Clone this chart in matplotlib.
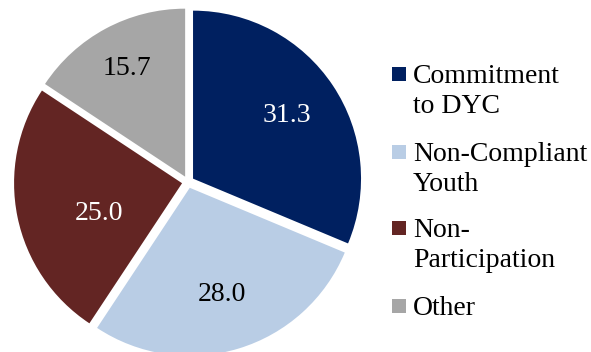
import numpy as np
import matplotlib.pyplot as plt
from matplotlib.patches import Rectangle

categories = ['Commitment\nto DYC', 'Non-Compliant\nYouth', 'Non-\nParticipation', 'Other']
values = [31.3, 28.0, 25.0, 15.7]
colors = ['#002060', '#B9CDE5', '#632523', '#A6A6A6']
text_colors = ['white', 'black', 'white', 'black']
# where each value sits: distance from the centre and turn off the bisector (deg)
label_r = [0.71, 0.70, 0.56, 0.77]
label_turn = [0, 0, 8, 0]

plt.rcParams['font.family'] = ['Liberation Serif', 'DejaVu Serif']

W, H = 591, 352
fig = plt.figure(figsize=(W / 100, H / 100), dpi=100)

cx, cy, R = 188, 182, 168
ax = fig.add_axes([(cx - R) / W, (H - cy - R) / H, 2 * R / W, 2 * R / H])
wedges, _ = ax.pie(values, colors=colors, startangle=90, counterclock=False,
                   explode=[0.036] * 4, radius=1.0,
                   wedgeprops=dict(linewidth=0))
ax.set_xlim(-1, 1)
ax.set_ylim(-1, 1)
ax.set_aspect('equal')
ax.axis('off')

for w, v, r, t, tc in zip(wedges, values, label_r, label_turn, text_colors):
    ang = np.deg2rad((w.theta1 + w.theta2) / 2 + t)
    ax.text(r * np.cos(ang), r * np.sin(ang), f'{v:.1f}', color=tc,
            ha='center', va='center', fontsize=20)

# legend drawn by hand so the key sits on the first line of each label
baselines = [83, 161, 237, 315]
line_gap = 30
for y, lab, c in zip(baselines, categories, colors):
    fig.patches.append(Rectangle((392 / W, 1 - (y - 2) / H), 14 / W, 14 / H,
                                 transform=fig.transFigure, facecolor=c,
                                 edgecolor='none'))
    for i, line in enumerate(lab.split('\n')):
        fig.text(413 / W, 1 - (y + i * line_gap) / H, line, ha='left',
                 va='baseline', fontsize=20)

fig.savefig('out.png', dpi=100)
